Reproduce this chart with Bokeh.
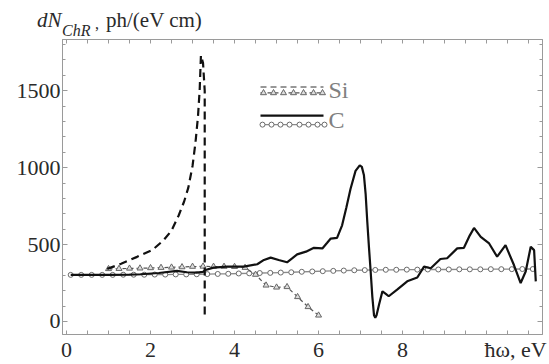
from bokeh.plotting import figure
from bokeh.models import Range1d, FixedTicker, LinearAxis, Label, Div
from bokeh.layouts import column
from bokeh.embed import file_html
from bokeh.resources import INLINE

# ---------------- data ----------------
si_x = [0.97, 1.3, 1.68, 2.04, 2.31, 2.5, 2.67, 2.8, 2.9, 3.0, 3.07, 3.13, 3.17, 3.2, 3.25, 3.29, 3.29, 3.29]
si_y = [342, 375, 420, 464, 528, 590, 689, 780, 870, 1011, 1163, 1333, 1505, 1730, 1680, 1500, 800, 25]

si_tri_x = [1.0, 1.25, 1.5, 1.75, 2.0, 2.25, 2.5, 2.75, 3.0, 3.25, 3.5, 3.75, 4.0, 4.25,
            4.5, 4.75, 5.0, 5.25, 5.5, 5.75, 6.0]
si_tri_y = [342, 343, 345, 346, 348, 350, 352, 354, 357, 358, 357, 357, 356, 350,
            305, 235, 222, 225, 160, 95, 40]

c_x = [0.1, 0.5, 1.0, 1.5, 1.76, 2.2, 2.63, 2.86, 3.1, 3.25, 3.31, 3.5, 3.82, 4.22, 4.54,
       4.7, 4.86, 5.05, 5.25, 5.37, 5.49, 5.7, 5.89, 6.09, 6.2, 6.29, 6.44, 6.56, 6.66,
       6.76, 6.88, 6.98, 7.03, 7.08, 7.12, 7.16, 7.2, 7.24, 7.28, 7.32, 7.35, 7.38, 7.44,
       7.52, 7.6, 7.67, 7.87, 8.11, 8.35, 8.51, 8.67, 8.9, 9.06, 9.3, 9.46, 9.6, 9.7,
       9.86, 10.06, 10.25, 10.45, 10.65, 10.81, 10.93, 11.05, 11.13, 11.17]
c_y = [303, 303, 303, 305, 307, 315, 329, 320, 318, 322, 335, 350, 357, 357, 372,
       400, 415, 400, 385, 410, 436, 454, 479, 475, 510, 539, 544, 625, 740,
       861, 979, 1015, 1005, 950, 830, 647, 480, 325, 160, 40, 24, 40, 110,
       196, 180, 164, 207, 261, 286, 357, 346, 406, 411, 475, 479, 560, 608,
       550, 507, 421, 496, 367, 250, 325, 486, 464, 261]

c_circ_x = [0.1, 0.35, 0.6, 0.85, 1.1, 1.35, 1.6, 1.85, 2.1, 2.35, 2.6, 2.85, 3.1, 3.35,
            3.6, 3.85, 4.1, 4.35, 4.6, 4.85, 5.1, 5.35, 5.6, 5.85, 6.1, 6.35, 6.6, 6.85,
            7.1, 7.35, 7.6, 7.85, 8.1, 8.35, 8.6, 8.85, 9.1, 9.35, 9.6, 9.85, 10.1, 10.35,
            10.6, 10.85, 11.1]
c_circ_y = [303, 303, 303, 303, 303, 304, 304, 304, 305, 305, 306, 306, 307, 308,
            309, 310, 312, 313, 315, 316, 318, 320, 323, 325, 327, 329, 331, 333,
            334, 335, 336, 336, 337, 337, 338, 338, 338, 339, 339, 339, 340, 340,
            340, 341, 341]

x_tick_labels = ["0", "2", "4", "6", "8"]
x_ticks = [0, 2, 4, 6, 8]
x_minor = [0, 0.5, 1, 1.5, 2, 2.5, 3, 3.5, 4, 4.5, 5, 5.5, 6, 6.5, 7, 7.5, 8, 8.5, 9,
           9.5, 10, 10.5, 11]
y_ticks = [0, 500, 1000, 1500]
y_minor = [100, 200, 300, 400, 600, 700, 800, 900, 1100, 1200, 1300, 1400, 1600, 1700, 1800]

x_title = "ħω, eV"
legend_si = "Si"
legend_c = "C"

# ---------------- layout (page pixels) ----------------
W = 549
HEAD_H = 37          # header strip with the quantity label
MAIN_H = 364 - HEAD_H
FL, FR, FT, FB = 62, 542, 39, 337   # frame edges
XMIN, XMAX = -0.095, 11.33
Y_PER_PX = 1 / 0.1554
YMAX = 1833
YMIN = YMAX - (FB - FT) * Y_PER_PX


def px2x(px):
    return XMIN + (px - FL) / (FR - FL) * (XMAX - XMIN)


def py2y(py):
    return YMAX - (py - FT) / (FB - FT) * (YMAX - YMIN)


SERIF = "'Liberation Serif', 'Times New Roman', serif"
FRAME = "#9a9a9a"
TXT = "#2a2a2a"

# ---------- header strip: dN_ChR , ph/(eV cm) ----------
HX, HY = 12, 2       # measured offset of the header box on the page


def span(left, baseline, txt, size, italic=False):
    top = baseline + HY - 0.8375 * size
    st = "font-style:italic;" if italic else ""
    return (f'<span style="position:absolute;left:{left + HX}px;top:{top:.1f}px;'
            f'font-size:{size}px;line-height:{size}px;{st}">{txt}</span>')


head_html = ('<div style="position:relative;width:%dpx;height:%dpx;margin:0;padding:0;'
             'font-family:\'Liberation Serif\',\'Times New Roman\',serif;color:%s;'
             'white-space:nowrap">' % (W, HEAD_H, TXT)
             + span(25, 26, "dN", 21, True)
             + span(50, 34, "ChR", 16, True)
             + span(83, 27, ",", 16)
             + span(94, 26, "ph/(eV cm)", 21)
             + "</div>")
head = Div(text=head_html, width=W, height=HEAD_H, margin=0,
           styles={"margin": "0", "padding": "0"})

# ---------- main plot ----------
p = figure(width=W, height=MAIN_H, output_backend="svg", toolbar_location=None,
           x_range=Range1d(XMIN, XMAX), y_range=Range1d(YMIN, YMAX),
           min_border_left=FL, min_border_right=W - FR,
           min_border_top=FT - HEAD_H, min_border_bottom=364 - FB)
p.grid.visible = False
p.outline_line_color = FRAME


def style_axis(ax, labels=True):
    ax.axis_line_color = FRAME
    ax.major_tick_line_color = FRAME
    ax.minor_tick_line_color = FRAME
    ax.major_tick_in = 5
    ax.major_tick_out = 0
    ax.minor_tick_in = 3
    ax.minor_tick_out = 0
    if labels:
        ax.major_label_text_font = SERIF
        ax.major_label_text_font_size = "22px"
        ax.major_label_text_color = TXT
        ax.major_label_standoff = 2
    else:
        ax.major_label_text_font_size = "0px"
        ax.major_label_text_color = None
        ax.major_label_standoff = 0


# bottom axis: visible marks come from the (uniform) minor ticks; the major
# positions only carry the labels, including the axis title at the right end
x_title_pos = px2x(515)
p.xaxis.ticker = FixedTicker(ticks=x_ticks + [x_title_pos], minor_ticks=x_minor)
overrides = {t: s for t, s in zip(x_ticks, x_tick_labels)}
overrides[x_title_pos] = x_title
p.xaxis.major_label_overrides = overrides
p.yaxis.ticker = FixedTicker(ticks=y_ticks, minor_ticks=y_minor)
style_axis(p.xaxis[0])
style_axis(p.yaxis[0])
p.xaxis.major_tick_in = 0
p.xaxis.minor_tick_in = 4

top = LinearAxis(ticker=FixedTicker(ticks=[], minor_ticks=x_minor))
right = LinearAxis(ticker=FixedTicker(ticks=y_ticks, minor_ticks=y_minor))
style_axis(top, labels=False)
style_axis(right, labels=False)
top.minor_tick_in = 4
p.add_layout(top, "above")
p.add_layout(right, "right")

# ---------------- curves ----------------
p.line(c_circ_x, c_circ_y, line_color="#8a8a8a", line_width=1.3)
p.scatter(c_circ_x, c_circ_y, marker="circle", size=5, line_color="#6a6a6a",
          fill_color="white", line_width=1)

p.line(si_tri_x, si_tri_y, line_color="#555555", line_width=1.2, line_dash="4 3")
p.scatter(si_tri_x, si_tri_y, marker="triangle", size=6, line_color="#666666",
          fill_color="#dddddd", line_width=1)

p.line(c_x, c_y, line_color="#111111", line_width=2.2)
p.line(si_x, si_y, line_color="#111111", line_width=2.2, line_dash="8 5")

# ---------------- legend (drawn by hand: two samples per entry) ----------------
LX0, LX1 = 260, 323
p.line([px2x(LX0), px2x(LX1)], [py2y(87), py2y(87)], line_color="#777777",
       line_width=1.4, line_dash="6 4")
p.line([px2x(LX0), px2x(LX1)], [py2y(93), py2y(93)], line_color="#555555",
       line_width=1.2, line_dash="4 3")
tri_px = [263, 273, 283, 293, 303, 313, 322]
p.scatter([px2x(v) for v in tri_px], [py2y(93)] * len(tri_px), marker="triangle", size=6,
          line_color="#666666", fill_color="#dddddd")
p.line([px2x(LX0), px2x(LX1)], [py2y(116), py2y(116)], line_color="#111111", line_width=2.2)
p.line([px2x(LX0), px2x(LX1)], [py2y(125), py2y(125)], line_color="#8a8a8a", line_width=1.3)
circ_px = [262, 271, 280, 289, 299, 308, 317, 324]
p.scatter([px2x(v) for v in circ_px], [py2y(125)] * len(circ_px), marker="circle", size=5,
          line_color="#6a6a6a", fill_color="white")

p.add_layout(Label(x=px2x(328), y=py2y(90), text=legend_si, text_font=SERIF,
                   text_font_size="24px", text_color="#808080", text_baseline="middle"))
p.add_layout(Label(x=px2x(328), y=py2y(120), text=legend_c, text_font=SERIF,
                   text_font_size="24px", text_color="#808080", text_baseline="middle"))

layout = column(head, p, spacing=0)
open("out.html", "w").write(file_html(layout, INLINE))
